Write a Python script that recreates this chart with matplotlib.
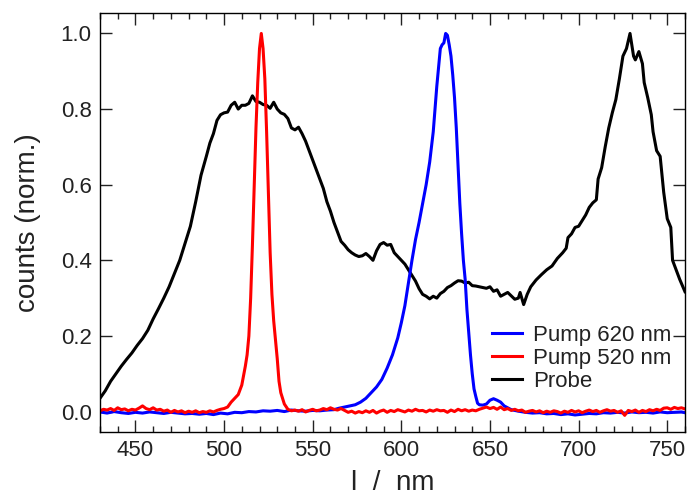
#Spectra of pump and probe pulses, normalised counts vs wavelength

import matplotlib.pyplot as plt
from matplotlib.ticker import MultipleLocator

plt.rcParams['font.family'] = ['Liberation Sans', 'DejaVu Sans']

# probe spectrum
probe_nm = [430, 433, 436, 439, 442, 445, 448, 451, 454, 457, 460, 463, 466, 469, 472, 475, 478, 481, 484, 487,
            490, 492, 494, 496, 498, 500, 502, 504, 506, 508, 510, 512, 514, 516, 518, 520, 522, 524, 526, 528,
            530, 532, 534, 536, 538, 540, 542, 544, 546, 548, 550, 552, 554, 556, 558, 560, 562, 564, 566, 568,
            570, 572, 574, 576, 578, 580, 582, 584, 586, 588, 590, 592, 594, 596, 598, 600, 602, 604, 606, 608,
            610, 612, 614, 616, 618, 620, 622, 624, 626, 628, 630, 632, 634, 636, 638, 640, 642, 644, 646, 648,
            650, 652, 654, 656, 658, 660, 662, 664, 666, 667, 669, 671, 673, 676, 679, 682, 685, 688, 691, 693,
            694, 696, 698, 700, 702, 704, 706, 708, 710, 711, 713, 715, 717, 719, 721, 723, 725, 727, 729, 731,
            732, 734, 736, 737, 739, 741, 742, 744, 746, 748, 750, 752, 753, 755, 757, 760]
probe_val = [0.035, 0.055, 0.080, 0.100, 0.120, 0.138, 0.155, 0.175, 0.193, 0.215, 0.245, 0.272, 0.300, 0.330, 0.365, 0.400, 0.445, 0.490, 0.555, 0.625,
             0.675, 0.710, 0.735, 0.770, 0.785, 0.790, 0.792, 0.810, 0.818, 0.800, 0.810, 0.810, 0.815, 0.835, 0.820, 0.818, 0.812, 0.810, 0.802, 0.818,
             0.800, 0.790, 0.786, 0.775, 0.750, 0.745, 0.752, 0.735, 0.715, 0.690, 0.665, 0.640, 0.615, 0.590, 0.555, 0.530, 0.500, 0.475, 0.450, 0.440,
             0.428, 0.420, 0.414, 0.410, 0.412, 0.418, 0.410, 0.400, 0.425, 0.442, 0.447, 0.440, 0.442, 0.420, 0.410, 0.400, 0.390, 0.375, 0.360, 0.345,
             0.325, 0.310, 0.305, 0.298, 0.305, 0.300, 0.312, 0.318, 0.328, 0.333, 0.340, 0.346, 0.345, 0.340, 0.342, 0.333, 0.332, 0.330, 0.328, 0.326,
             0.330, 0.318, 0.322, 0.305, 0.310, 0.315, 0.306, 0.297, 0.300, 0.315, 0.283, 0.310, 0.330, 0.348, 0.362, 0.375, 0.385, 0.405, 0.420, 0.432,
             0.460, 0.470, 0.487, 0.490, 0.505, 0.520, 0.540, 0.552, 0.560, 0.615, 0.645, 0.700, 0.750, 0.790, 0.825, 0.880, 0.940, 0.960, 1.000, 0.940,
             0.930, 0.952, 0.920, 0.870, 0.830, 0.785, 0.740, 0.690, 0.675, 0.580, 0.510, 0.487, 0.400, 0.375, 0.350, 0.317]

# pump at 520 nm
red_nm = [430, 432, 434, 436, 438, 440, 442, 444, 446, 448, 450, 452, 454, 456, 458, 460, 462, 464, 466, 468,
          470, 472, 474, 476, 478, 480, 482, 484, 486, 488, 490, 492, 494, 496, 498, 500, 502, 504, 506, 508,
          510, 512, 513, 514, 515, 516, 517, 518, 519, 520, 521, 522, 523, 524, 525, 526, 527, 528, 529, 530,
          531, 532, 533, 534, 536, 538, 540, 542, 544, 546, 548, 550, 552, 554, 556, 558, 560, 562, 564, 566,
          568, 570, 572, 574, 576, 578, 580, 582, 584, 586, 588, 590, 592, 594, 596, 598, 600, 602, 604, 606,
          608, 610, 612, 614, 616, 618, 620, 622, 624, 626, 628, 630, 632, 634, 636, 638, 640, 642, 644, 646,
          648, 650, 652, 654, 656, 658, 660, 662, 664, 666, 668, 670, 672, 674, 676, 678, 680, 682, 684, 686,
          688, 690, 692, 694, 696, 698, 700, 702, 704, 706, 708, 710, 712, 714, 716, 718, 720, 722, 724, 726,
          728, 730, 732, 734, 736, 738, 740, 742, 744, 746, 748, 750, 752, 754, 756, 758, 760]
red_val = [0.002, 0.006, 0.004, 0.008, 0.003, 0.010, 0.005, 0.007, 0.002, 0.006, 0.004, 0.009, 0.015, 0.008, 0.005, 0.010, 0.004, 0.006, 0.001, 0.004,
           -0.002, 0.003, -0.001, 0.002, -0.003, 0.001, -0.002, 0.002, -0.003, 0.000, -0.002, 0.002, -0.001, 0.003, 0.006, 0.008, 0.012, 0.025, 0.035, 0.045,
           0.070, 0.120, 0.150, 0.200, 0.300, 0.440, 0.600, 0.750, 0.870, 0.960, 1.000, 0.960, 0.880, 0.740, 0.580, 0.420, 0.310, 0.240, 0.190, 0.140,
           0.080, 0.050, 0.035, 0.020, 0.006, 0.002, 0.004, 0.001, 0.005, -0.001, 0.003, 0.006, 0.002, 0.004, 0.008, 0.005, 0.010, 0.006, 0.004, 0.008,
           0.003, -0.002, 0.001, -0.004, 0.000, -0.003, 0.002, -0.002, 0.003, -0.004, 0.001, 0.004, -0.002, 0.003, 0.000, 0.005, 0.002, -0.001, 0.004, 0.001,
           0.006, 0.002, 0.003, -0.001, 0.004, 0.001, 0.005, 0.002, 0.003, -0.002, 0.004, 0.000, 0.006, 0.002, 0.005, 0.001, 0.004, 0.002, 0.006, 0.009,
           0.012, 0.008, 0.011, 0.006, 0.012, 0.005, 0.008, 0.003, 0.006, 0.002, 0.004, -0.002, 0.001, 0.003, -0.001, 0.002, -0.003, 0.001, -0.002, 0.002,
           0.000, -0.004, 0.001, -0.002, 0.003, -0.001, 0.002, -0.003, 0.001, 0.004, 0.000, 0.003, -0.002, 0.002, 0.005, 0.001, 0.003, -0.002, 0.002, -0.010,
           0.003, 0.000, 0.004, -0.002, 0.003, 0.000, 0.005, 0.002, 0.006, 0.003, 0.009, 0.010, 0.006, 0.011, 0.008, 0.010, 0.007]

# pump at 620 nm
blue_nm = [430, 434, 438, 442, 446, 450, 454, 458, 462, 466, 470, 474, 478, 482, 486, 490, 494, 498, 502, 506,
           510, 514, 518, 522, 526, 530, 534, 538, 542, 546, 550, 554, 558, 562, 565, 568, 571, 574, 577, 580,
           583, 586, 589, 592, 595, 598, 600, 602, 604, 606, 608, 610, 612, 614, 616, 618, 619, 620, 621, 622,
           623, 624, 625, 626, 627, 628, 629, 630, 631, 632, 633, 634, 635, 636, 637, 638, 639, 640, 641, 642,
           643, 644, 646, 648, 650, 652, 654, 656, 658, 660, 662, 666, 670, 674, 678, 682, 686, 690, 694, 698,
           702, 706, 710, 714, 718, 722, 726, 730, 734, 738, 742, 746, 750, 754, 758, 760]
blue_val = [-0.001, -0.004, 0.000, -0.003, -0.005, -0.002, -0.004, -0.001, -0.003, -0.005, -0.002, -0.004, -0.006, -0.005, -0.007, -0.005, -0.008, -0.004, -0.006, -0.002,
            -0.003, 0.000, -0.001, 0.002, 0.001, 0.003, 0.000, 0.004, 0.002, 0.001, 0.003, 0.002, 0.004, 0.005, 0.009, 0.012, 0.015, 0.018, 0.025, 0.035,
            0.050, 0.065, 0.085, 0.115, 0.150, 0.195, 0.235, 0.280, 0.340, 0.400, 0.455, 0.500, 0.550, 0.600, 0.660, 0.740, 0.800, 0.860, 0.910, 0.960,
            0.970, 0.975, 1.000, 0.995, 0.970, 0.940, 0.890, 0.830, 0.750, 0.650, 0.550, 0.470, 0.400, 0.350, 0.270, 0.210, 0.150, 0.100, 0.060, 0.040,
            0.022, 0.018, 0.017, 0.020, 0.030, 0.034, 0.030, 0.025, 0.015, 0.010, 0.005, 0.001, -0.002, -0.004, -0.003, -0.006, -0.005, -0.008, -0.006, -0.009,
            -0.007, -0.005, -0.006, -0.003, -0.004, -0.002, -0.004, -0.001, -0.003, -0.002, -0.004, -0.001, -0.003, -0.002, -0.001, -0.003]

fig = plt.figure(figsize=(6.88, 4.95), dpi=100)
ax = fig.add_axes([0.1453, 0.1273, 0.8503, 0.8464])

ax.plot(probe_nm, probe_val, color='black', lw=2.2, label='Probe')
ax.plot(blue_nm, blue_val, color='#0000ff', lw=2.2, label='Pump 620 nm')
ax.plot(red_nm, red_val, color='#ff0000', lw=2.2, label='Pump 520 nm')

ax.set_xlim(430, 760)
ax.set_ylim(-0.054, 1.054)
ax.xaxis.set_major_locator(MultipleLocator(50))
ax.xaxis.set_minor_locator(MultipleLocator(10))
ax.yaxis.set_major_locator(MultipleLocator(0.2))
ax.yaxis.set_major_formatter(plt.FormatStrFormatter('%.1f'))

ax.tick_params(which='both', direction='in', top=True, right=True, width=1.0, labelsize=16,
               colors='#222222')
ax.tick_params(which='major', length=8.5, pad=6)
ax.tick_params(which='minor', length=4)
for s in ax.spines.values():
	s.set_linewidth(1.0)

ax.set_xlabel('l  /  nm', fontsize=20, labelpad=6, color='#222222')
ax.set_ylabel('counts (norm.)', fontsize=20, labelpad=14, color='#222222')

handles, labels = ax.get_legend_handles_labels()
order = [1, 2, 0]
leg = ax.legend([handles[i] for i in order], [labels[i] for i in order], loc='center left',
                bbox_to_anchor=(0.6696, 0.1759), frameon=False, fontsize=16, borderpad=0,
                borderaxespad=0, handlelength=1.35, handletextpad=0.5, labelspacing=0.08)
for t in leg.get_texts():
	t.set_color('#222222')

plt.savefig('out.png', dpi=100)
